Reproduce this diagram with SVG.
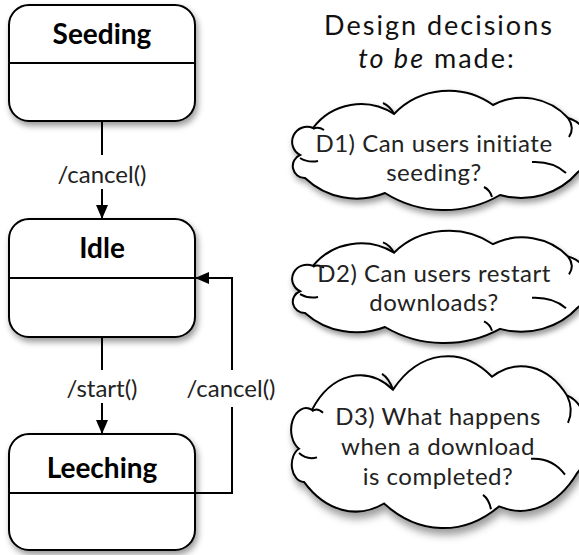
<svg xmlns="http://www.w3.org/2000/svg" xmlns:xlink="http://www.w3.org/1999/xlink" width="579" height="555" viewBox="0 0 579 555">
<style>
.box{fill:#fff;stroke:#000;stroke-width:2;filter:url(#sh)}
.div{stroke:#000;stroke-width:2;fill:none}
.name{font-family:Lato,"Liberation Sans",sans-serif;font-weight:bold;font-size:28px;fill:#000;text-anchor:middle}
.lbl{font-family:Lato,"Liberation Sans",sans-serif;font-size:24px;fill:#222;text-anchor:middle}
.title{font-family:Lato,"Liberation Sans",sans-serif;font-size:27px;letter-spacing:2px;fill:#111;text-anchor:middle}
.ctext{font-family:Lato,"Liberation Sans",sans-serif;font-size:24px;letter-spacing:0.5px;fill:#222;text-anchor:middle}
.edge{stroke:#000;stroke-width:2;fill:none}
.cloud{fill:#fff;stroke:#000;stroke-width:2;vector-effect:non-scaling-stroke}
.curl{fill:none;stroke:#000;stroke-width:2;vector-effect:non-scaling-stroke}
</style>
<defs>
<filter id="sh" x="-10%" y="-10%" width="125%" height="130%">
<feDropShadow dx="2" dy="4" stdDeviation="3" flood-color="#000" flood-opacity="0.4"/>
</filter>
<marker id="arr" markerWidth="14" markerHeight="12" refX="14" refY="6" orient="auto" markerUnits="userSpaceOnUse">
<path d="M0,0 L14,6 L0,12 Z" fill="#000"/>
</marker>
<g id="cloudshape">
<path class="cloud" d="M313,128 A60 60 0 0 1 394,114 A76 76 0 0 1 493,105 A62 62 0 0 1 568,118 A30.7 30.7 0 0 1 578,172 A75 75 0 0 1 500,195 A111 111 0 0 1 385,193 A75 75 0 0 1 305,178 A12 12 0 0 1 300,155 A15 15 0 0 1 313,128 Z"/>
<path class="curl" d="M313,129 Q318,126 324,130"/>
<path class="curl" d="M394,114 Q390,106 383,103"/>
<path class="curl" d="M568,118 Q575,128 569,137"/>
<path class="curl" d="M532,162 Q553,161 566,173"/>
<path class="curl" d="M492,197 Q490,190 484,187"/>
<path class="curl" d="M300,158 Q308,163 318,161"/>
</g>
</defs>
<rect width="579" height="555" fill="#fff"/>

<g id="seeding">
<rect class="box" x="9" y="5" width="186" height="116" rx="20"/>
<line class="div" x1="9" y1="63" x2="195" y2="63"/>
<text class="name" x="102" y="44">Seeding</text>
</g>
<g id="idle">
<rect class="box" x="9" y="219" width="186" height="118" rx="20"/>
<line class="div" x1="9" y1="278" x2="195" y2="278"/>
<text class="name" x="102" y="258">Idle</text>
</g>
<g id="leeching">
<rect class="box" x="9" y="434" width="186" height="116" rx="20"/>
<line class="div" x1="9" y1="493" x2="195" y2="493"/>
<text class="name" x="102" y="478">Leeching</text>
</g>

<g id="connectors">
<line class="edge" x1="102" y1="121" x2="102" y2="155"/>
<line class="edge" x1="102" y1="189" x2="102" y2="219" marker-end="url(#arr)"/>
<text class="lbl" x="102" y="183">/cancel()</text>
<line class="edge" x1="102" y1="337" x2="102" y2="370"/>
<line class="edge" x1="102" y1="403" x2="102" y2="434" marker-end="url(#arr)"/>
<text class="lbl" x="102" y="397">/start()</text>
<polyline class="edge" points="195,493 232,493 232,407"/>
<polyline class="edge" points="232,370 232,278 195,278" marker-end="url(#arr)"/>
<text class="lbl" x="231" y="397">/cancel()</text>
</g>

<g id="heading">
<text class="title" x="439" y="35">Design decisions</text>
<text class="title" x="437" y="68"><tspan font-style="italic">to be</tspan> made:</text>
</g>

<g id="d1">
<use xlink:href="#cloudshape" filter="url(#sh)"/>
<text class="ctext" x="434" y="152">D1) Can users initiate</text>
<text class="ctext" x="434" y="181">seeding?</text>
</g>
<g id="d2">
<use xlink:href="#cloudshape" transform="matrix(1,0,0,0.941,0,145.4)" filter="url(#sh)"/>
<text class="ctext" x="434" y="282">D2) Can users restart</text>
<text class="ctext" x="434" y="311">downloads?</text>
</g>
<g id="d3">
<use xlink:href="#cloudshape" transform="matrix(1,0,0,1.441,-1,225.4)" filter="url(#sh)"/>
<text class="ctext" x="438" y="425">D3) What happens</text>
<text class="ctext" x="438" y="455">when a download</text>
<text class="ctext" x="438" y="485">is completed?</text>
</g>
</svg>
